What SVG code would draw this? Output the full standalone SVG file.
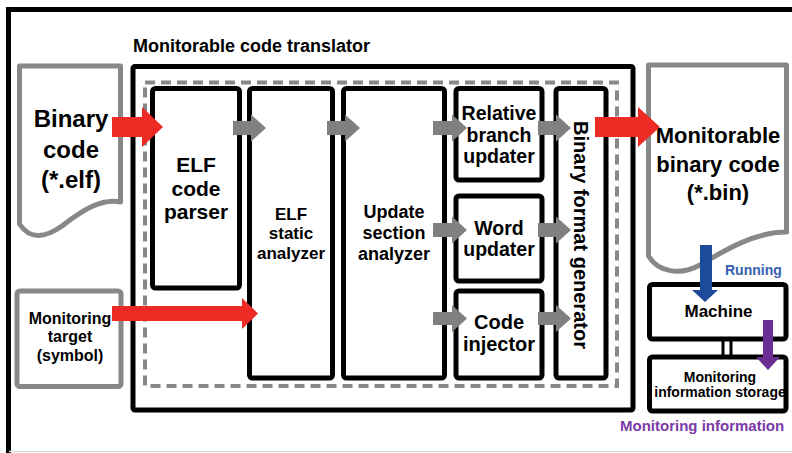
<svg xmlns="http://www.w3.org/2000/svg" width="792" height="453" viewBox="0 0 792 453">
<style>
text{font-family:"Liberation Sans",Arial,sans-serif;font-weight:bold;fill:#000;text-anchor:middle}
.blk{fill:#fff;stroke:#000;stroke-width:5}
.doc{fill:#fff;stroke:#888;stroke-width:5;stroke-linejoin:round}
.ga{fill:#808080}
.ra{fill:#ee2a24}
</style>
<rect width="792" height="453" fill="#fff"/>
<g id="frame">
<path d="M8.5,453 V9.5 H792" fill="none" stroke="#000" stroke-width="5"/>
<line x1="9" y1="451.5" x2="792" y2="451.5" stroke="#ddd" stroke-width="1.5"/>
</g>
<g id="translator">
<rect class="blk" x="133" y="66.5" width="500" height="343.5" rx="2"/>
<text x="133" y="52" font-size="18" style="text-anchor:start">Monitorable code translator</text>
<rect x="145" y="82.5" width="472" height="303.5" fill="none" stroke="#888" stroke-width="4" stroke-dasharray="10,6"/>
</g>
<g id="elf-code-parser">
<rect class="blk" x="152.5" y="88.5" width="87" height="199.5" rx="3"/>
<text x="196" y="172" font-size="21">ELF</text>
<text x="196" y="196" font-size="21">code</text>
<text x="196" y="219" font-size="21">parser</text>
</g>
<g id="elf-static-analyzer">
<rect class="blk" x="249.5" y="88.5" width="83" height="289.5" rx="3"/>
<text x="291" y="220" font-size="17">ELF</text>
<text x="291" y="239" font-size="17">static</text>
<text x="291" y="259" font-size="17">analyzer</text>
</g>
<g id="update-section-analyzer">
<rect class="blk" x="343.5" y="88.5" width="101" height="289.5" rx="3"/>
<text x="394" y="218" font-size="18">Update</text>
<text x="394" y="239" font-size="18">section</text>
<text x="394" y="260" font-size="18">analyzer</text>
</g>
<g id="relative-branch-updater">
<rect class="blk" x="456" y="88.5" width="86" height="91.5" rx="3"/>
<text x="499" y="120" font-size="19.5">Relative</text>
<text x="499" y="142" font-size="19.5">branch</text>
<text x="499" y="163" font-size="19.5">updater</text>
</g>
<g id="word-updater">
<rect class="blk" x="456" y="196" width="86" height="85" rx="3"/>
<text x="499" y="235" font-size="19.5">Word</text>
<text x="499" y="256" font-size="19.5">updater</text>
</g>
<g id="code-injector">
<rect class="blk" x="456" y="291" width="86" height="87" rx="3"/>
<text x="499" y="329" font-size="20">Code</text>
<text x="499" y="351" font-size="20">injector</text>
</g>
<g id="binary-format-generator">
<rect class="blk" x="556" y="88.5" width="50" height="289.5" rx="3"/>
<text transform="translate(574,235) rotate(90)" font-size="20">Binary format generator</text>
</g>
<g id="binary-code">
<path class="doc" d="M19.5,66 H120.5 V202 C100,198 80,212 62,226 C45,238 30,240 19.5,224 Z"/>
<text x="71" y="127" font-size="24">Binary</text>
<text x="71" y="158" font-size="24">code</text>
<text x="71" y="188" font-size="24">(*.elf)</text>
</g>
<g id="monitoring-target">
<rect class="doc" x="17" y="291" width="104" height="95.5" rx="3"/>
<text x="70" y="324" font-size="16">Monitoring</text>
<text x="70" y="342" font-size="16">target</text>
<text x="70" y="361" font-size="16">(symbol)</text>
</g>
<g id="monitorable-binary-code">
<path class="doc" d="M648.5,65 H786.5 V232 C755,232 725,250 700,265 C680,276 658,272 648.5,256 Z"/>
<text x="718" y="143" font-size="22">Monitorable</text>
<text x="718" y="172" font-size="22">binary code</text>
<text x="718" y="200" font-size="22">(*.bin)</text>
</g>
<g id="machine">
<rect class="blk" x="649.5" y="284.5" width="136.5" height="54.5" rx="3"/>
<text x="718.5" y="317" font-size="17">Machine</text>
</g>
<g id="monitoring-information-storage">
<rect class="blk" x="649.5" y="357" width="136.5" height="54" rx="3"/>
<text x="720" y="382" font-size="14">Monitoring</text>
<text x="720" y="397" font-size="14">information storage</text>
</g>
<g id="connectors">
<path class="ra" d="M112,117 H142 V107 L163,127 L142,147 V137 H112 Z"/>
<path class="ra" d="M112,306 H242 V298 L258,313.5 L242,329 V321 H112 Z"/>
<path class="ra" d="M595,117 H638 V107 L660,127 L638,147 V137 H595 Z"/>
<path class="ga" d="M233,121 H251 V114.5 L266,128 L251,141.5 V135 H233 Z"/>
<path class="ga" d="M327,121 H345 V114.5 L360,128 L345,141.5 V135 H327 Z"/>
<path class="ga" d="M433,121 H452 V114.5 L467,128 L452,141.5 V135 H433 Z"/>
<path class="ga" d="M538,121 H556 V114.5 L571,128 L556,141.5 V135 H538 Z"/>
<path class="ga" d="M433,223 H452 V216.5 L467,230 L452,243.5 V237 H433 Z"/>
<path class="ga" d="M538,223 H556 V216.5 L571,230 L556,243.5 V237 H538 Z"/>
<path class="ga" d="M433,312 H452 V305 L467,318.5 L452,332 V325 H433 Z"/>
<path class="ga" d="M538,312 H556 V305 L571,318.5 L556,332 V325 H538 Z"/>
<line x1="723" y1="339" x2="723" y2="357" stroke="#000" stroke-width="3"/>
<line x1="731" y1="339" x2="731" y2="357" stroke="#000" stroke-width="3"/>
<path d="M700,245 H712 V290 H718 L705,302 L692,290 H700 Z" fill="#1e4a9c"/>
<text x="725" y="275" font-size="14" fill="#3560b0" style="text-anchor:start;fill:#3560b0">Running</text>
<path d="M763,320 H773 V357 H780 L768,370 L756,357 H763 Z" fill="#6b2d91"/>
<text x="620" y="431" font-size="15" style="text-anchor:start;fill:#7a3aa8">Monitoring information</text>
</g>
</svg>
